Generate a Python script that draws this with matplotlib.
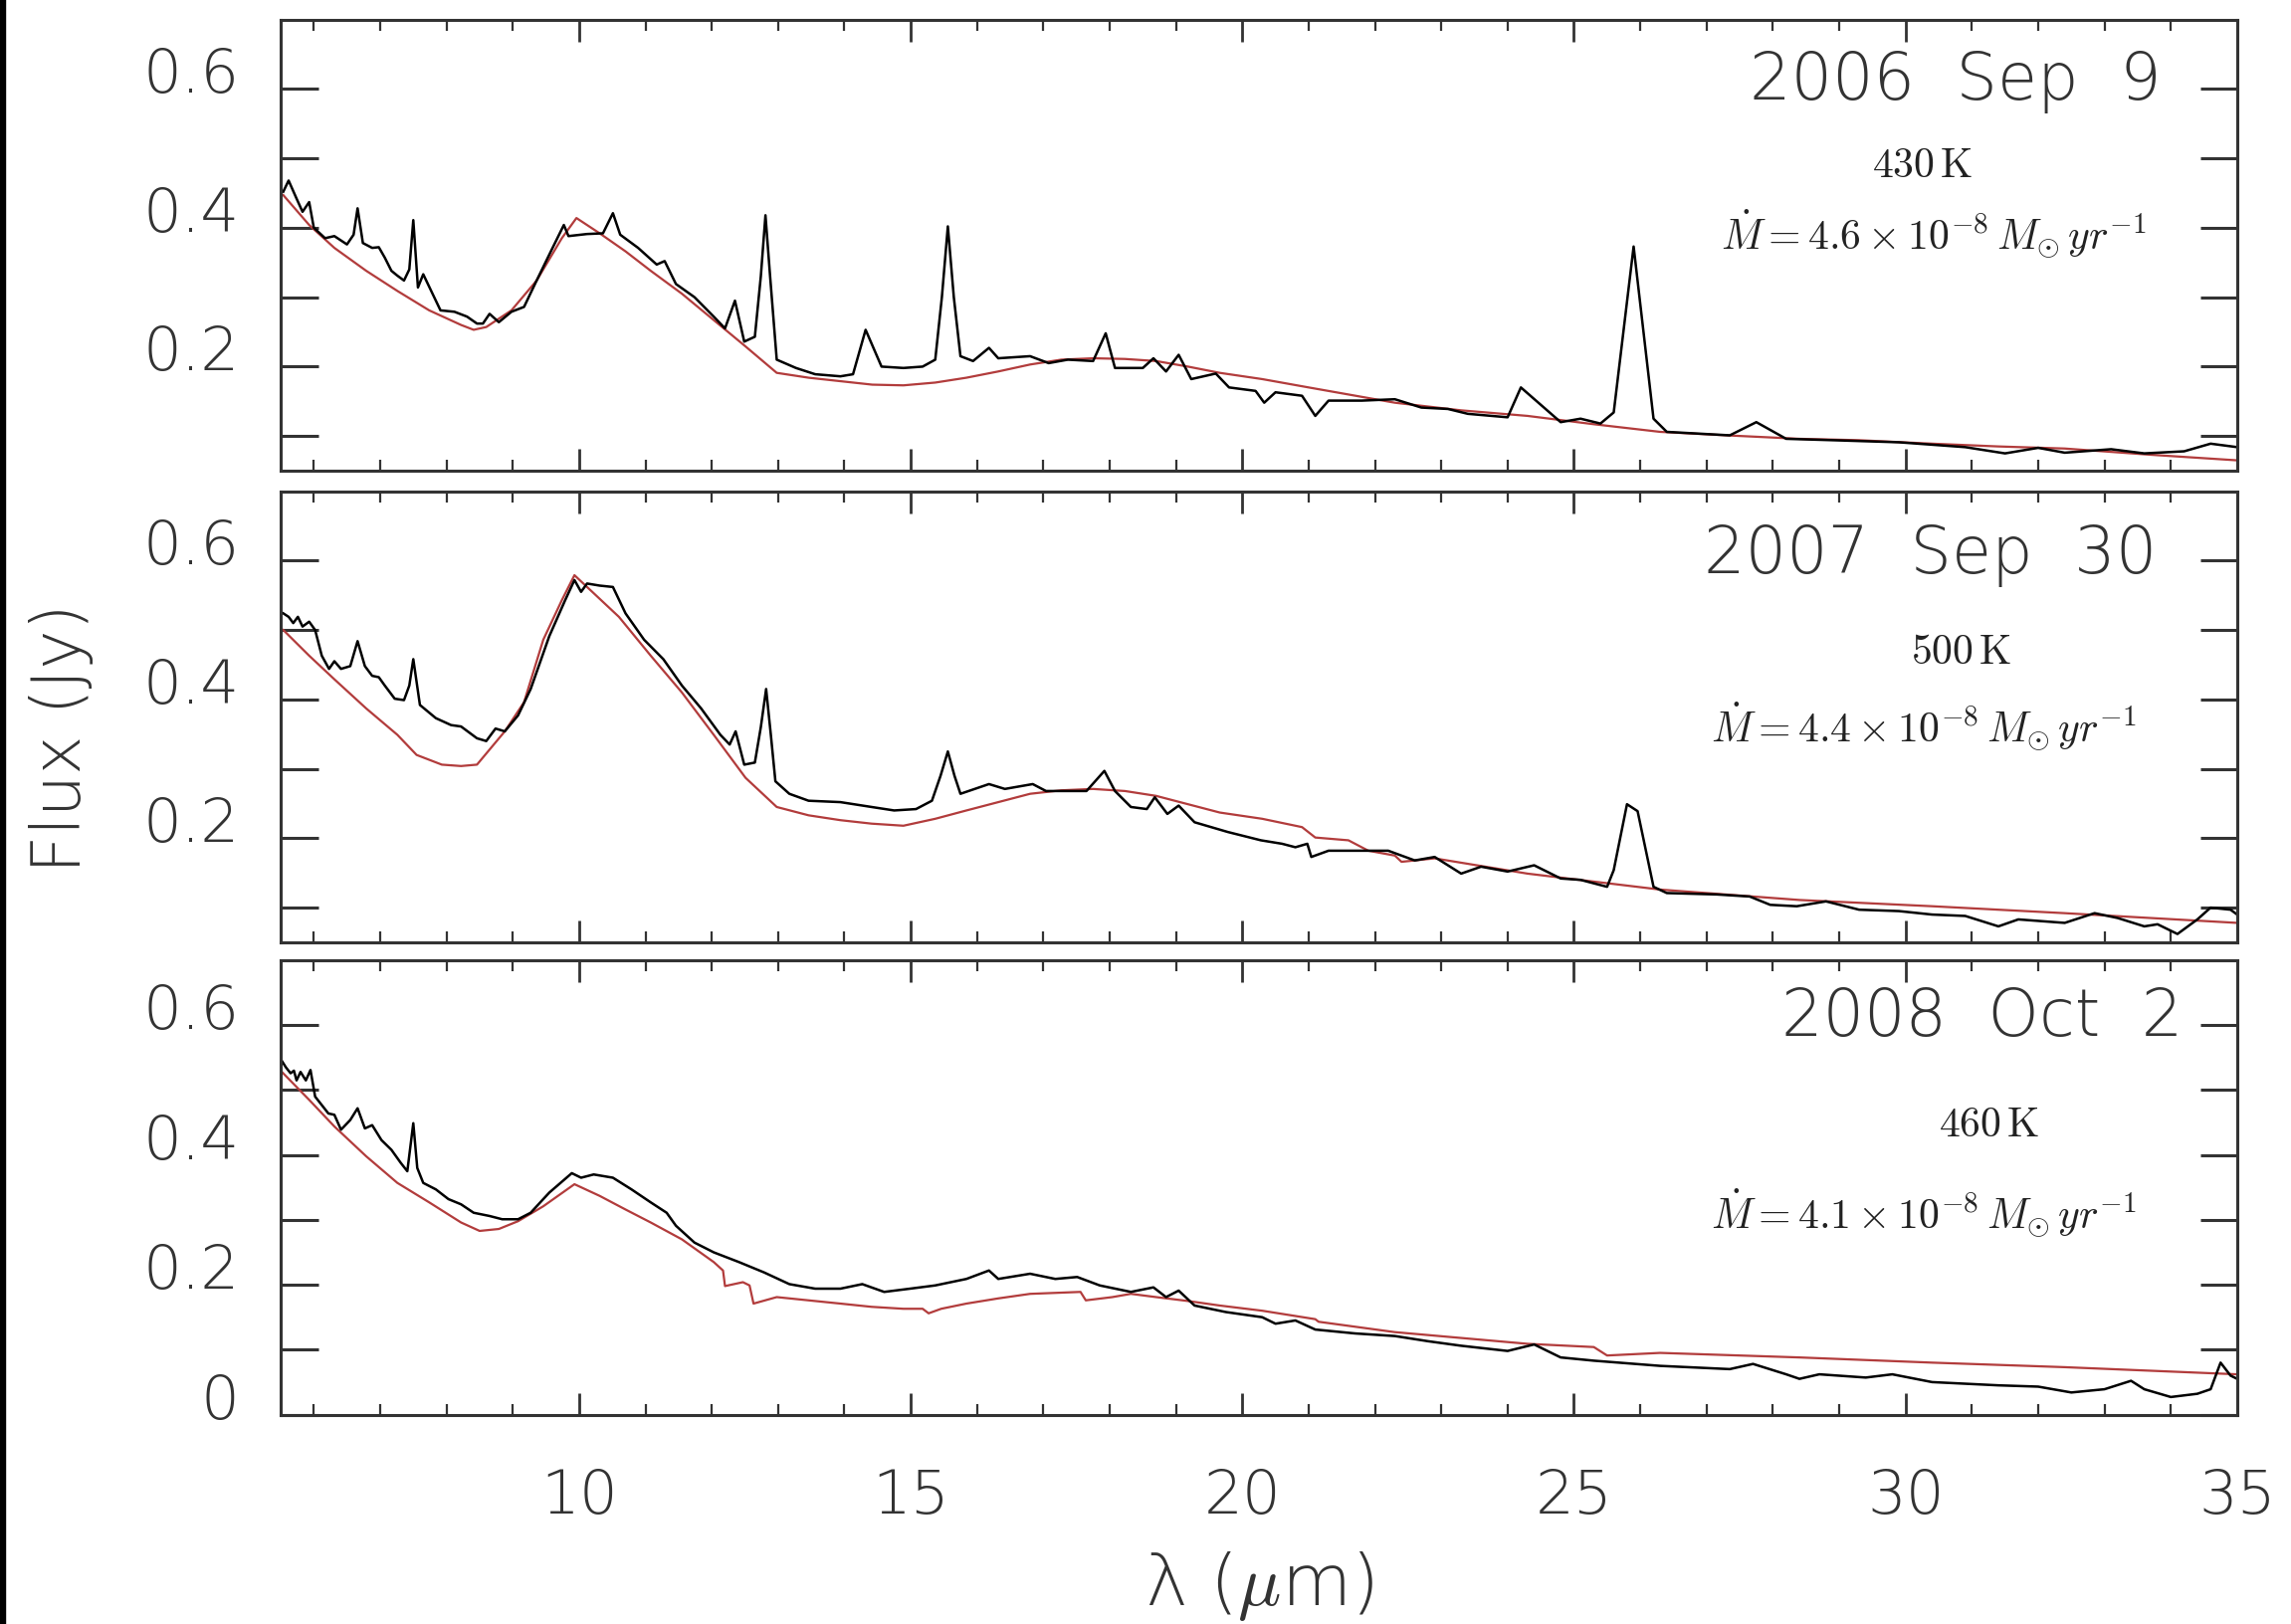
import numpy as np
import matplotlib.pyplot as plt
from matplotlib.ticker import MultipleLocator, FixedLocator, FuncFormatter
from matplotlib.transforms import ScaledTranslation
from matplotlib.patches import Rectangle

plt.rcParams.update({
    'font.family': 'DejaVu Sans',
    'mathtext.fontset': 'cm',
})

# ---- data: wavelength (micron), flux (Jy) ----
# 2006 Sep 9
wl_obs_1 = [5.54, 5.62, 5.74, 5.83, 5.93, 6.00, 6.17, 6.31, 6.50, 6.60, 6.66, 6.74, 6.88, 6.98, 7.07,
            7.17, 7.26, 7.36, 7.44, 7.50, 7.57, 7.65, 7.79, 7.91, 8.12, 8.31, 8.46, 8.55, 8.65, 8.79,
            8.98, 9.17, 9.36, 9.60, 9.77, 9.84, 10.12, 10.36, 10.51, 10.62, 10.89, 11.17, 11.29, 11.46,
            11.74, 12.03, 12.20, 12.35, 12.49, 12.65, 12.74, 12.81, 12.88, 12.98, 13.27, 13.56, 13.94,
            14.13, 14.32, 14.56, 14.89, 15.18, 15.37, 15.47, 15.56, 15.65, 15.75, 15.94, 16.18, 16.32,
            16.80, 17.08, 17.37, 17.75, 17.94, 18.08, 18.50, 18.66, 18.85, 19.04, 19.23, 19.60, 19.80,
            20.20, 20.33, 20.50, 20.90, 21.10, 21.30, 21.80, 22.30, 22.70, 23.10, 23.40, 24.00, 24.20,
            24.80, 25.10, 25.40, 25.60, 25.90, 26.20, 26.40, 27.35, 27.75, 28.20, 28.90, 29.90, 30.90,
            31.50, 32.00, 32.40, 33.10, 33.60, 34.20, 34.60, 35.00]
flux_obs_1 = [0.452, 0.468, 0.442, 0.423, 0.437, 0.400, 0.385, 0.388, 0.376, 0.390, 0.428, 0.378, 0.371,
              0.372, 0.357, 0.338, 0.331, 0.324, 0.340, 0.411, 0.314, 0.333, 0.305, 0.281, 0.279, 0.272,
              0.262, 0.262, 0.276, 0.264, 0.279, 0.286, 0.324, 0.371, 0.404, 0.388, 0.391, 0.392, 0.421,
              0.390, 0.371, 0.347, 0.352, 0.319, 0.300, 0.272, 0.255, 0.295, 0.236, 0.243, 0.330, 0.418,
              0.330, 0.210, 0.198, 0.189, 0.186, 0.189, 0.253, 0.200, 0.198, 0.200, 0.210, 0.300, 0.402,
              0.300, 0.215, 0.208, 0.227, 0.212, 0.215, 0.205, 0.210, 0.208, 0.248, 0.198, 0.198, 0.212,
              0.193, 0.217, 0.182, 0.190, 0.170, 0.165, 0.148, 0.163, 0.158, 0.129, 0.151, 0.151, 0.153,
              0.141, 0.139, 0.132, 0.127, 0.170, 0.120, 0.125, 0.118, 0.134, 0.373, 0.125, 0.106, 0.101,
              0.120, 0.096, 0.094, 0.091, 0.084, 0.075, 0.083, 0.076, 0.081, 0.075, 0.078, 0.089, 0.084]
wl_mod_1 = [5.54, 5.93, 6.31, 6.79, 7.26, 7.74, 8.22, 8.41, 8.60, 8.98, 9.36, 9.74, 9.96, 10.31, 10.70,
            11.08, 11.55, 12.03, 12.51, 12.98, 13.46, 13.94, 14.42, 14.89, 15.37, 15.84, 16.32, 16.80,
            17.27, 17.75, 18.23, 18.70, 19.18, 19.66, 20.30, 21.00, 22.30, 23.30, 24.30, 25.30, 26.30,
            27.30, 28.40, 29.30, 30.40, 31.40, 32.40, 33.70, 35.00]
flux_mod_1 = [0.447, 0.404, 0.371, 0.338, 0.309, 0.281, 0.260, 0.253, 0.257, 0.281, 0.324, 0.385, 0.414,
              0.392, 0.366, 0.338, 0.305, 0.267, 0.229, 0.191, 0.184, 0.179, 0.174, 0.173, 0.177, 0.184,
              0.193, 0.203, 0.210, 0.212, 0.211, 0.208, 0.200, 0.191, 0.182, 0.170, 0.148, 0.137, 0.129,
              0.117, 0.106, 0.101, 0.096, 0.094, 0.089, 0.085, 0.082, 0.073, 0.065]

# 2007 Sep 30
wl_obs_2 = [5.54, 5.62, 5.69, 5.76, 5.83, 5.93, 6.02, 6.12, 6.23, 6.31, 6.41, 6.55, 6.66, 6.77, 6.88,
            6.98, 7.07, 7.22, 7.36, 7.44, 7.50, 7.60, 7.84, 8.07, 8.22, 8.46, 8.60, 8.74, 8.88, 9.08,
            9.27, 9.55, 9.79, 9.93, 10.03, 10.12, 10.31, 10.51, 10.70, 10.98, 11.27, 11.55, 11.84, 12.13,
            12.27, 12.36, 12.49, 12.65, 12.74, 12.82, 12.89, 12.96, 13.17, 13.46, 13.94, 14.41, 14.75,
            15.08, 15.32, 15.45, 15.56, 15.66, 15.75, 16.18, 16.42, 16.84, 17.04, 17.65, 17.92, 18.08,
            18.32, 18.56, 18.68, 18.87, 19.04, 19.28, 19.78, 20.28, 20.60, 20.80, 20.98, 21.04, 21.30,
            21.80, 22.20, 22.60, 22.90, 23.30, 23.60, 24.00, 24.40, 24.80, 25.10, 25.50, 25.60, 25.80,
            25.96, 26.20, 26.40, 27.15, 27.65, 27.96, 28.36, 28.80, 29.30, 29.90, 30.40, 30.90, 31.40,
            31.70, 32.40, 32.85, 33.20, 33.60, 33.80, 34.10, 34.40, 34.60, 34.90, 35.00]
flux_obs_2 = [0.524, 0.519, 0.510, 0.519, 0.505, 0.512, 0.500, 0.463, 0.444, 0.455, 0.444, 0.448, 0.484,
              0.448, 0.434, 0.432, 0.420, 0.401, 0.399, 0.420, 0.458, 0.392, 0.373, 0.363, 0.361, 0.344,
              0.340, 0.358, 0.354, 0.377, 0.415, 0.491, 0.543, 0.572, 0.555, 0.567, 0.564, 0.562, 0.524,
              0.486, 0.458, 0.420, 0.387, 0.349, 0.335, 0.354, 0.306, 0.309, 0.360, 0.415, 0.350, 0.282,
              0.264, 0.254, 0.252, 0.245, 0.240, 0.242, 0.254, 0.290, 0.325, 0.290, 0.264, 0.278, 0.271,
              0.278, 0.268, 0.268, 0.297, 0.268, 0.245, 0.242, 0.259, 0.235, 0.247, 0.223, 0.209, 0.197,
              0.192, 0.187, 0.192, 0.173, 0.182, 0.182, 0.182, 0.168, 0.173, 0.149, 0.159, 0.152, 0.161,
              0.142, 0.140, 0.130, 0.154, 0.249, 0.239, 0.130, 0.121, 0.119, 0.116, 0.104, 0.102, 0.109,
              0.097, 0.095, 0.090, 0.088, 0.073, 0.083, 0.078, 0.092, 0.085, 0.073, 0.076, 0.062, 0.083,
              0.100, 0.097, 0.090]
wl_mod_2 = [5.54, 5.93, 6.31, 6.79, 7.26, 7.55, 7.93, 8.22, 8.46, 8.88, 9.17, 9.46, 9.74, 9.93, 10.12,
            10.60, 11.08, 11.55, 12.03, 12.51, 12.98, 13.46, 13.94, 14.41, 14.89, 15.37, 15.84, 16.32,
            16.80, 17.27, 17.75, 18.23, 18.70, 19.18, 19.66, 20.30, 20.90, 21.10, 21.60, 21.90, 22.30,
            22.40, 22.90, 24.30, 26.30, 28.40, 30.40, 32.40, 35.00]
flux_mod_2 = [0.500, 0.463, 0.429, 0.387, 0.349, 0.320, 0.306, 0.304, 0.306, 0.354, 0.396, 0.486, 0.543,
              0.579, 0.562, 0.519, 0.463, 0.410, 0.349, 0.287, 0.245, 0.233, 0.226, 0.221, 0.218, 0.228,
              0.240, 0.252, 0.264, 0.269, 0.271, 0.268, 0.261, 0.249, 0.237, 0.228, 0.216, 0.201, 0.197,
              0.182, 0.175, 0.166, 0.171, 0.149, 0.126, 0.111, 0.102, 0.092, 0.078]

# 2008 Oct 2
wl_obs_3 = [5.50, 5.58, 5.65, 5.70, 5.74, 5.80, 5.88, 5.95, 6.02, 6.22, 6.31, 6.41, 6.55, 6.66, 6.77,
            6.88, 7.02, 7.17, 7.31, 7.41, 7.50, 7.56, 7.65, 7.84, 8.03, 8.22, 8.41, 8.65, 8.84, 9.08,
            9.27, 9.55, 9.89, 10.03, 10.22, 10.51, 10.79, 11.08, 11.32, 11.46, 11.74, 12.03, 12.41,
            12.79, 13.17, 13.56, 13.94, 14.27, 14.60, 14.99, 15.37, 15.84, 16.18, 16.32, 16.80, 17.18,
            17.51, 17.85, 18.32, 18.66, 18.85, 19.04, 19.28, 19.75, 20.30, 20.50, 20.80, 21.10, 21.70,
            22.30, 22.80, 23.30, 24.00, 24.40, 24.80, 25.30, 26.30, 27.35, 27.70, 28.20, 28.40, 28.70,
            29.40, 29.80, 30.40, 31.40, 32.00, 32.50, 33.00, 33.40, 33.60, 34.00, 34.40, 34.60, 34.75,
            34.90, 35.00]
flux_obs_3 = [0.548, 0.535, 0.526, 0.530, 0.515, 0.528, 0.515, 0.531, 0.490, 0.464, 0.462, 0.439, 0.454,
              0.472, 0.441, 0.446, 0.423, 0.408, 0.388, 0.375, 0.449, 0.380, 0.357, 0.347, 0.332, 0.324,
              0.311, 0.306, 0.301, 0.301, 0.311, 0.342, 0.372, 0.365, 0.370, 0.365, 0.347, 0.327, 0.311,
              0.291, 0.265, 0.250, 0.235, 0.219, 0.201, 0.194, 0.194, 0.201, 0.189, 0.194, 0.199, 0.209,
              0.222, 0.209, 0.217, 0.209, 0.212, 0.199, 0.189, 0.196, 0.181, 0.191, 0.168, 0.158, 0.150,
              0.140, 0.145, 0.131, 0.125, 0.121, 0.113, 0.106, 0.098, 0.108, 0.088, 0.083, 0.075, 0.070,
              0.078, 0.062, 0.055, 0.062, 0.057, 0.062, 0.050, 0.045, 0.043, 0.034, 0.039, 0.052, 0.039,
              0.027, 0.032, 0.039, 0.080, 0.060, 0.055]
wl_mod_3 = [5.50, 5.93, 6.31, 6.79, 7.26, 7.74, 8.22, 8.50, 8.79, 9.08, 9.46, 9.93, 10.31, 10.70, 11.08,
            11.55, 12.03, 12.17, 12.20, 12.47, 12.57, 12.63, 12.98, 13.46, 13.94, 14.41, 14.89, 15.18,
            15.27, 15.46, 15.84, 16.32, 16.80, 17.56, 17.64, 18.04, 18.32, 18.70, 19.18, 19.66, 20.30,
            21.10, 21.15, 22.30, 24.30, 25.30, 25.50, 26.30, 28.40, 30.40, 32.40, 35.00]
flux_mod_3 = [0.530, 0.485, 0.444, 0.398, 0.357, 0.327, 0.296, 0.283, 0.286, 0.298, 0.321, 0.355, 0.337,
              0.316, 0.296, 0.270, 0.235, 0.222, 0.198, 0.204, 0.199, 0.171, 0.181, 0.176, 0.171, 0.166,
              0.163, 0.163, 0.156, 0.163, 0.171, 0.179, 0.186, 0.189, 0.176, 0.181, 0.186, 0.181, 0.175,
              0.168, 0.160, 0.147, 0.143, 0.127, 0.109, 0.104, 0.091, 0.095, 0.088, 0.080, 0.073, 0.062]

dates = ['2006  Sep  9', '2007  Sep  30', '2008  Oct  2']
temps = ['430', '500', '460']
mdots = ['4.6', '4.4', '4.1']
ymins = [0.05, 0.05, 0.0]

obs = [(wl_obs_1, flux_obs_1), (wl_obs_2, flux_obs_2), (wl_obs_3, flux_obs_3)]
mod = [(wl_mod_1, flux_mod_1), (wl_mod_2, flux_mod_2), (wl_mod_3, flux_mod_3)]

# text placement (axes fraction)
date_pos = [(0.961, 0.864), (0.959, 0.861), (0.972, 0.875)]
temp_pos = [(0.839, 0.680), (0.859, 0.647), (0.873, 0.640)]
mdot_pos = [(0.845, 0.528), (0.840, 0.482), (0.840, 0.447)]

W, H = 2302, 1633
fig = plt.figure(figsize=(W / 100, H / 100), dpi=100)
frame_col = '#333333'
text_col = '#333333'
red = '#b23c3c'

boxes = [(0.1225, 0.7097, 0.854, 0.2777),
         (0.1225, 0.4195, 0.854, 0.2776),
         (0.1225, 0.1289, 0.854, 0.2795)]

label_fmt = FuncFormatter(lambda v, p: ('0' if abs(v) < 1e-9 else f'{v:.1f}')
                          if int(round(v * 10)) % 2 == 0 else '')

for i in range(3):
    ax = fig.add_axes(boxes[i])
    ax.plot(mod[i][0], mod[i][1], color=red, lw=1.6)
    ax.plot(obs[i][0], obs[i][1], color='black', lw=1.8)
    ax.set_xlim(5.5, 35)
    ax.set_ylim(ymins[i], 0.70)

    yt = np.round(np.arange(ymins[i] if ymins[i] == 0 else 0.1, 0.65, 0.1), 2)
    ax.yaxis.set_major_locator(FixedLocator(yt))
    ax.yaxis.set_major_formatter(label_fmt)
    ax.xaxis.set_major_locator(MultipleLocator(5))
    ax.xaxis.set_minor_locator(MultipleLocator(1))
    ax.tick_params(axis='both', which='both', direction='in', top=True, right=True,
                   color=frame_col, labelcolor=text_col)
    ax.tick_params(axis='y', which='major', length=27, width=2.2, pad=30, labelsize=44)
    ax.tick_params(axis='x', which='major', length=16, width=2.0, pad=38, labelsize=44)
    ax.tick_params(axis='x', which='minor', length=8, width=1.6)
    if i < 2:
        ax.tick_params(axis='x', labelbottom=False)
    for s in ax.spines.values():
        s.set_color(frame_col)
        s.set_linewidth(2.2)
    for lbl in ax.get_yticklabels() + ax.get_xticklabels():
        lbl.set_fontweight(200)
    off = ScaledTranslation(0, 0.2, fig.dpi_scale_trans)
    for lbl in ax.get_yticklabels():
        lbl.set_transform(lbl.get_transform() + off)

    ax.text(date_pos[i][0], date_pos[i][1], dates[i], transform=ax.transAxes, ha='right',
            va='center', fontsize=47, fontweight=200, color=text_col)
    ax.text(temp_pos[i][0], temp_pos[i][1], r'$\mathrm{' + temps[i] + r'\,K}$',
            transform=ax.transAxes, ha='center', va='center', fontsize=30, color='#222222')
    ax.text(mdot_pos[i][0], mdot_pos[i][1],
            r'$\dot{M} = ' + mdots[i] + r'\times 10^{-8}\,M_{\odot}\,yr^{-1}$',
            transform=ax.transAxes, ha='center', va='center', fontsize=30, color='#222222')

fig.text(0.027, 0.546, 'Flux (Jy)', rotation=90, ha='center', va='center',
         fontsize=48, fontweight=200, color=text_col)
fig.text(0.5495, 0.024, r'λ ($\mu$m)', ha='center', va='center',
         fontsize=52, fontweight=200, color=text_col)

# dark strip along the left border of the scan
fig.patches.append(Rectangle((0, 0), 5 / W, 1, transform=fig.transFigure,
                             color='black', zorder=0))

fig.savefig('out.png', dpi=100)
